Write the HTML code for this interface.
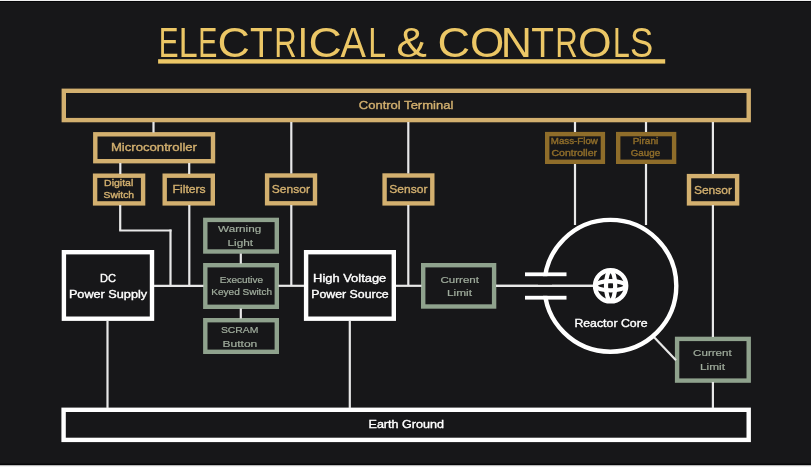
<!DOCTYPE html>
<html><head><meta charset="utf-8"><style>
html,body{margin:0;padding:0;background:#171719;}
body{width:811px;height:467px;overflow:hidden;position:relative;}
svg{position:absolute;left:0;top:0;will-change:transform;}
text{font-family:"Liberation Sans",sans-serif;}
</style></head><body>
<svg width="811" height="467" viewBox="0 0 811 467">
<rect x="0" y="0" width="811" height="467" fill="#171719"/>
<rect x="0" y="0" width="811" height="1" fill="#f0f0f0"/>
<rect x="0" y="1" width="811" height="1" fill="#050507"/>
<rect x="0" y="463" width="811" height="1" fill="#0f0f11"/>
<rect x="0" y="464" width="811" height="1" fill="#060608"/>
<rect x="0" y="465" width="811" height="1" fill="#b8b8b8"/>
<rect x="0" y="466" width="811" height="1" fill="#f4f4f4"/>
<rect x="63.80" y="90.80" width="684.90" height="29.30" fill="none" stroke="#d3b06f" stroke-width="4.4"/>
<rect x="95.30" y="134.30" width="117.70" height="26.90" fill="none" stroke="#d3b06f" stroke-width="4.4"/>
<rect x="95.10" y="175.70" width="48.00" height="27.70" fill="none" stroke="#d3b06f" stroke-width="4.4"/>
<rect x="164.70" y="175.70" width="48.10" height="27.70" fill="none" stroke="#d3b06f" stroke-width="4.4"/>
<rect x="267.10" y="175.50" width="47.90" height="27.80" fill="none" stroke="#d3b06f" stroke-width="4.4"/>
<rect x="384.60" y="175.50" width="47.70" height="27.90" fill="none" stroke="#d3b06f" stroke-width="4.4"/>
<rect x="547.20" y="134.10" width="55.70" height="27.70" fill="none" stroke="#8f6d2a" stroke-width="4.4"/>
<rect x="618.20" y="134.10" width="55.90" height="27.70" fill="none" stroke="#8f6d2a" stroke-width="4.4"/>
<rect x="689.00" y="176.10" width="48.10" height="27.30" fill="none" stroke="#d3b06f" stroke-width="4.4"/>
<rect x="205.30" y="219.90" width="71.50" height="31.60" fill="none" stroke="#8fa28d" stroke-width="4.4"/>
<rect x="205.30" y="265.20" width="71.50" height="41.60" fill="none" stroke="#8fa28d" stroke-width="4.4"/>
<rect x="205.30" y="320.20" width="71.50" height="31.60" fill="none" stroke="#8fa28d" stroke-width="4.4"/>
<rect x="63.90" y="252.20" width="88.10" height="66.50" fill="none" stroke="#ffffff" stroke-width="4.4"/>
<rect x="306.10" y="252.20" width="87.70" height="66.50" fill="none" stroke="#ffffff" stroke-width="4.4"/>
<rect x="423.20" y="265.20" width="70.90" height="41.30" fill="none" stroke="#8fa28d" stroke-width="4.4"/>
<rect x="677.10" y="338.90" width="71.60" height="41.70" fill="none" stroke="#8fa28d" stroke-width="4.4"/>
<rect x="63.60" y="409.80" width="685.10" height="30.10" fill="none" stroke="#ffffff" stroke-width="4.4"/>
<line x1="153.5" y1="122" x2="153.5" y2="132.5" stroke="#e8e8e8" stroke-width="2.2"/>
<line x1="120.3" y1="163" x2="120.3" y2="174" stroke="#e8e8e8" stroke-width="2.2"/>
<line x1="189.2" y1="163" x2="189.2" y2="174" stroke="#e8e8e8" stroke-width="2.2"/>
<line x1="291.3" y1="122" x2="291.3" y2="173.5" stroke="#e8e8e8" stroke-width="2.2"/>
<line x1="291.3" y1="205" x2="291.3" y2="285.8" stroke="#e8e8e8" stroke-width="2.2"/>
<line x1="408.3" y1="122" x2="408.3" y2="173.5" stroke="#e8e8e8" stroke-width="2.2"/>
<line x1="408.3" y1="205" x2="408.3" y2="285.8" stroke="#e8e8e8" stroke-width="2.2"/>
<line x1="575.0" y1="122" x2="575.0" y2="132" stroke="#e8e8e8" stroke-width="2.2"/>
<line x1="575.0" y1="164" x2="575.0" y2="225" stroke="#e8e8e8" stroke-width="2.2"/>
<line x1="646.0" y1="122" x2="646.0" y2="132" stroke="#e8e8e8" stroke-width="2.2"/>
<line x1="646.0" y1="164" x2="646.0" y2="225" stroke="#e8e8e8" stroke-width="2.2"/>
<line x1="712.9" y1="122" x2="712.9" y2="174" stroke="#e8e8e8" stroke-width="2.2"/>
<line x1="712.9" y1="205" x2="712.9" y2="337" stroke="#e8e8e8" stroke-width="2.2"/>
<line x1="712.9" y1="382" x2="712.9" y2="408" stroke="#e8e8e8" stroke-width="2.2"/>
<line x1="120.2" y1="205" x2="120.2" y2="230.5" stroke="#e8e8e8" stroke-width="2.2"/>
<line x1="119.2" y1="230.5" x2="171.5" y2="230.5" stroke="#e8e8e8" stroke-width="2.2"/>
<line x1="170.5" y1="229.5" x2="170.5" y2="285.8" stroke="#e8e8e8" stroke-width="2.2"/>
<line x1="189.3" y1="205" x2="189.3" y2="285.8" stroke="#e8e8e8" stroke-width="2.2"/>
<line x1="154" y1="285.8" x2="203.5" y2="285.8" stroke="#e8e8e8" stroke-width="2.2"/>
<line x1="278.5" y1="285.8" x2="304" y2="285.8" stroke="#e8e8e8" stroke-width="2.2"/>
<line x1="396" y1="285.8" x2="421.5" y2="285.8" stroke="#e8e8e8" stroke-width="2.2"/>
<line x1="496" y1="285.8" x2="595" y2="285.8" stroke="#e8e8e8" stroke-width="2.2"/>
<line x1="240.8" y1="253.5" x2="240.8" y2="263.5" stroke="#e8e8e8" stroke-width="2.2"/>
<line x1="240.8" y1="308.5" x2="240.8" y2="318.5" stroke="#e8e8e8" stroke-width="2.2"/>
<line x1="107.5" y1="320.5" x2="107.5" y2="408" stroke="#e8e8e8" stroke-width="2.2"/>
<line x1="349.8" y1="320.5" x2="349.8" y2="408" stroke="#e8e8e8" stroke-width="2.2"/>
<line x1="653.9" y1="337.1" x2="676" y2="360.2" stroke="#e8e8e8" stroke-width="2.2"/>
<circle cx="610.4" cy="285.8" r="65.9" fill="none" stroke="#ffffff" stroke-width="4.4"/>
<rect x="538" y="276.2" width="14" height="19.6" fill="#171719"/>
<line x1="496" y1="285.8" x2="595" y2="285.8" stroke="#e8e8e8" stroke-width="2.2"/>
<rect x="525" y="272.4" width="41.5" height="3.8" fill="#ffffff"/>
<rect x="525" y="295.8" width="41.5" height="3.8" fill="#ffffff"/>
<circle cx="610.6" cy="285.8" r="15.6" fill="none" stroke="#ffffff" stroke-width="4.4"/>
<ellipse cx="610.6" cy="285.8" rx="4.6" ry="15.0" fill="none" stroke="#ffffff" stroke-width="4.2"/>
<ellipse cx="610.6" cy="285.8" rx="15.0" ry="4.6" fill="none" stroke="#ffffff" stroke-width="4.2"/>
<rect x="158.1" y="59.2" width="507.1" height="4.4" fill="#ecc766"/>
<text x="158.66" y="56.7" font-size="42" fill="#ecc766" textLength="19.81" lengthAdjust="spacingAndGlyphs">E</text>
<text x="178.81" y="56.7" font-size="42" fill="#ecc766" textLength="18.92" lengthAdjust="spacingAndGlyphs">L</text>
<text x="198.15" y="56.7" font-size="42" fill="#ecc766" textLength="19.07" lengthAdjust="spacingAndGlyphs">E</text>
<text x="217.62" y="56.7" font-size="42" fill="#ecc766" textLength="32.39" lengthAdjust="spacingAndGlyphs">C</text>
<text x="249.97" y="56.7" font-size="42" fill="#ecc766" textLength="22.58" lengthAdjust="spacingAndGlyphs">T</text>
<text x="274.16" y="56.7" font-size="42" fill="#ecc766" textLength="22.38" lengthAdjust="spacingAndGlyphs">R</text>
<text x="297.54" y="56.7" font-size="42" fill="#ecc766" textLength="10.72" lengthAdjust="spacingAndGlyphs">I</text>
<text x="308.56" y="56.7" font-size="42" fill="#ecc766" textLength="33.30" lengthAdjust="spacingAndGlyphs">C</text>
<text x="340.43" y="56.7" font-size="42" fill="#ecc766" textLength="25.45" lengthAdjust="spacingAndGlyphs">A</text>
<text x="368.18" y="56.7" font-size="42" fill="#ecc766" textLength="17.79" lengthAdjust="spacingAndGlyphs">L</text>
<text x="396.29" y="56.7" font-size="42" fill="#ecc766" textLength="30.63" lengthAdjust="spacingAndGlyphs">&amp;</text>
<text x="437.61" y="56.7" font-size="42" fill="#ecc766" textLength="32.61" lengthAdjust="spacingAndGlyphs">C</text>
<text x="469.91" y="56.7" font-size="42" fill="#ecc766" textLength="34.30" lengthAdjust="spacingAndGlyphs">O</text>
<text x="500.66" y="56.7" font-size="42" fill="#ecc766" textLength="31.16" lengthAdjust="spacingAndGlyphs">N</text>
<text x="531.17" y="56.7" font-size="42" fill="#ecc766" textLength="22.69" lengthAdjust="spacingAndGlyphs">T</text>
<text x="555.34" y="56.7" font-size="42" fill="#ecc766" textLength="22.50" lengthAdjust="spacingAndGlyphs">R</text>
<text x="577.95" y="56.7" font-size="42" fill="#ecc766" textLength="33.61" lengthAdjust="spacingAndGlyphs">O</text>
<text x="613.03" y="56.7" font-size="42" fill="#ecc766" textLength="16.78" lengthAdjust="spacingAndGlyphs">L</text>
<text x="630.12" y="56.7" font-size="42" fill="#ecc766" textLength="23.17" lengthAdjust="spacingAndGlyphs">S</text>
<text x="358.8" y="109" font-size="10.96" font-weight="normal" fill="#d3b06f" textLength="94.50" lengthAdjust="spacingAndGlyphs" stroke="#d3b06f" stroke-width="0.35">Control Terminal</text>
<text x="110.9" y="150.9" font-size="11.25" font-weight="normal" fill="#d3b06f" textLength="86.10" lengthAdjust="spacingAndGlyphs" stroke="#d3b06f" stroke-width="0.35">Microcontroller</text>
<text x="104.1" y="185.5" font-size="8.73" font-weight="normal" fill="#d3b06f" textLength="29.20" lengthAdjust="spacingAndGlyphs" stroke="#d3b06f" stroke-width="0.35">Digital</text>
<text x="103.6" y="197.6" font-size="8.73" font-weight="normal" fill="#d3b06f" textLength="30.50" lengthAdjust="spacingAndGlyphs" stroke="#d3b06f" stroke-width="0.35">Switch</text>
<text x="172.6" y="193.2" font-size="11.25" font-weight="normal" fill="#d3b06f" textLength="33.10" lengthAdjust="spacingAndGlyphs" stroke="#d3b06f" stroke-width="0.35">Filters</text>
<text x="271.8" y="193.1" font-size="11.25" font-weight="normal" fill="#d3b06f" textLength="38.10" lengthAdjust="spacingAndGlyphs" stroke="#d3b06f" stroke-width="0.35">Sensor</text>
<text x="389.3" y="193.3" font-size="11.25" font-weight="normal" fill="#d3b06f" textLength="38.10" lengthAdjust="spacingAndGlyphs" stroke="#d3b06f" stroke-width="0.35">Sensor</text>
<text x="693.9" y="193.5" font-size="11.25" font-weight="normal" fill="#d3b06f" textLength="38.10" lengthAdjust="spacingAndGlyphs" stroke="#d3b06f" stroke-width="0.35">Sensor</text>
<text x="550.8" y="143.8" font-size="8.15" font-weight="normal" fill="#8f6d2a" textLength="47.10" lengthAdjust="spacingAndGlyphs" stroke="#8f6d2a" stroke-width="0.35">Mass-Flow</text>
<text x="551.5" y="156.3" font-size="8.15" font-weight="normal" fill="#8f6d2a" textLength="45.50" lengthAdjust="spacingAndGlyphs" stroke="#8f6d2a" stroke-width="0.35">Controller</text>
<text x="632.7" y="143.5" font-size="8.15" font-weight="normal" fill="#8f6d2a" textLength="25.50" lengthAdjust="spacingAndGlyphs" stroke="#8f6d2a" stroke-width="0.35">Pirani</text>
<text x="630.7" y="155.7" font-size="8.15" font-weight="normal" fill="#8f6d2a" textLength="29.40" lengthAdjust="spacingAndGlyphs" stroke="#8f6d2a" stroke-width="0.35">Gauge</text>
<text x="218.1" y="231.9" font-size="9.7" font-weight="normal" fill="#a0ad9d" textLength="43.10" lengthAdjust="spacingAndGlyphs" stroke="#a0ad9d" stroke-width="0.2">Warning</text>
<text x="227.5" y="246" font-size="9.7" font-weight="normal" fill="#a0ad9d" textLength="25.50" lengthAdjust="spacingAndGlyphs" stroke="#a0ad9d" stroke-width="0.2">Light</text>
<text x="219.8" y="282.6" font-size="8.15" font-weight="normal" fill="#a0ad9d" textLength="43.30" lengthAdjust="spacingAndGlyphs" stroke="#a0ad9d" stroke-width="0.2">Executive</text>
<text x="211.3" y="294.8" font-size="8.15" font-weight="normal" fill="#a0ad9d" textLength="60.70" lengthAdjust="spacingAndGlyphs" stroke="#a0ad9d" stroke-width="0.2">Keyed Switch</text>
<text x="220.9" y="333.3" font-size="9.7" font-weight="normal" fill="#a0ad9d" textLength="37.60" lengthAdjust="spacingAndGlyphs" stroke="#a0ad9d" stroke-width="0.2">SCRAM</text>
<text x="222.5" y="346.8" font-size="9.7" font-weight="normal" fill="#a0ad9d" textLength="34.80" lengthAdjust="spacingAndGlyphs" stroke="#a0ad9d" stroke-width="0.2">Button</text>
<text x="100" y="282" font-size="10.67" font-weight="normal" fill="#ffffff" textLength="16.00" lengthAdjust="spacingAndGlyphs" stroke="#ffffff" stroke-width="0.35">DC</text>
<text x="68.9" y="297.8" font-size="10.67" font-weight="normal" fill="#ffffff" textLength="78.20" lengthAdjust="spacingAndGlyphs" stroke="#ffffff" stroke-width="0.35">Power Supply</text>
<text x="313.1" y="282" font-size="10.67" font-weight="normal" fill="#ffffff" textLength="73.20" lengthAdjust="spacingAndGlyphs" stroke="#ffffff" stroke-width="0.35">High Voltage</text>
<text x="311.2" y="297.8" font-size="10.67" font-weight="normal" fill="#ffffff" textLength="77.50" lengthAdjust="spacingAndGlyphs" stroke="#ffffff" stroke-width="0.35">Power Source</text>
<text x="440.4" y="283" font-size="9.7" font-weight="normal" fill="#a0ad9d" textLength="38.60" lengthAdjust="spacingAndGlyphs" stroke="#a0ad9d" stroke-width="0.2">Current</text>
<text x="447" y="296.1" font-size="9.7" font-weight="normal" fill="#a0ad9d" textLength="25.00" lengthAdjust="spacingAndGlyphs" stroke="#a0ad9d" stroke-width="0.2">Limit</text>
<text x="574.4" y="326.6" font-size="10.67" font-weight="normal" fill="#ffffff" textLength="73.20" lengthAdjust="spacingAndGlyphs" stroke="#ffffff" stroke-width="0.35">Reactor Core</text>
<text x="693.1" y="356" font-size="9.7" font-weight="normal" fill="#a0ad9d" textLength="38.60" lengthAdjust="spacingAndGlyphs" stroke="#a0ad9d" stroke-width="0.2">Current</text>
<text x="700" y="369.7" font-size="9.7" font-weight="normal" fill="#a0ad9d" textLength="25.00" lengthAdjust="spacingAndGlyphs" stroke="#a0ad9d" stroke-width="0.2">Limit</text>
<text x="368.5" y="428" font-size="10.67" font-weight="normal" fill="#ffffff" textLength="75.40" lengthAdjust="spacingAndGlyphs" stroke="#ffffff" stroke-width="0.35">Earth Ground</text>
</svg>
</body></html>
